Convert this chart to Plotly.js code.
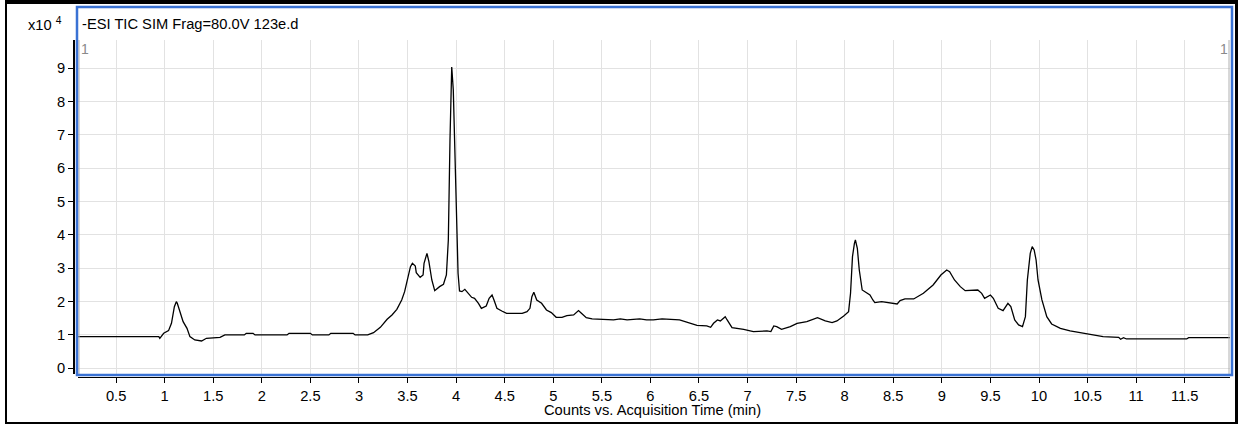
<!DOCTYPE html>
<html>
<head>
<meta charset="utf-8">
<script src="https://cdn.plot.ly/plotly-3.0.1.min.js"></script>
<style>
  html, body { margin: 0; padding: 0; background: #ffffff; }
  #wrap { position: relative; width: 1241px; height: 424px; overflow: hidden; }
  #chart { position: absolute; left: 0; top: 0; width: 1241px; height: 424px; }
  #frame { position: absolute; left: 5px; top: 0; width: 1233px; height: 424px; box-sizing: border-box;
           border-left: 2px solid #000; border-top: 4px solid #000; border-right: 3px solid #000; border-bottom: 2px solid #000;
           pointer-events: none; }
</style>
</head>
<body>
<div id="wrap">
  <div id="chart"></div>
  <div id="frame"></div>
</div>
<script>
// Acquisition time (min)
const time = [0.11, 0.50, 0.94, 0.95, 0.99, 1.04, 1.07, 1.10, 1.12, 1.13, 1.16, 1.19, 1.23, 1.26, 1.31, 1.38, 1.43, 1.57, 1.62,
  1.82, 1.84, 1.91, 1.93, 2.26, 2.28, 2.50, 2.52, 2.69, 2.71, 2.94, 2.96, 3.09, 3.15, 3.22, 3.29, 3.34, 3.39, 3.44, 3.47,
  3.51, 3.53, 3.55, 3.58, 3.59, 3.63, 3.66, 3.67, 3.70, 3.72, 3.75, 3.78, 3.83, 3.87, 3.90, 3.92, 3.937, 3.955, 3.971,
  3.99, 4.006, 4.02, 4.035, 4.06, 4.09, 4.13, 4.16, 4.19, 4.23, 4.26, 4.31, 4.34, 4.37, 4.39, 4.42, 4.47, 4.52, 4.68,
  4.73, 4.76, 4.78, 4.80, 4.83, 4.88, 4.93, 4.98, 5.03, 5.09, 5.14, 5.21, 5.26, 5.29, 5.34, 5.40, 5.53, 5.62, 5.69,
  5.76, 5.89, 5.96, 6.03, 6.12, 6.30, 6.41, 6.48, 6.58, 6.62, 6.65, 6.69, 6.72, 6.77, 6.79, 6.84, 6.96, 7.06, 7.20,
  7.24, 7.27, 7.30, 7.35, 7.44, 7.51, 7.61, 7.72, 7.80, 7.87, 7.92, 7.99, 8.04, 8.06, 8.08, 8.10, 8.11, 8.13, 8.15,
  8.18, 8.22, 8.26, 8.29, 8.31, 8.38, 8.54, 8.57, 8.62, 8.71, 8.81, 8.91, 8.99, 9.05, 9.08, 9.13, 9.19, 9.24, 9.37,
  9.41, 9.44, 9.50, 9.53, 9.58, 9.63, 9.68, 9.71, 9.75, 9.79, 9.83, 9.86, 9.88, 9.91, 9.93, 9.95, 9.97, 9.99, 10.03,
  10.08, 10.13, 10.22, 10.32, 10.42, 10.53, 10.66, 10.82, 10.84, 10.87, 10.90, 11.52, 11.54, 11.97];

// Counts (x10^4)
const counts = [0.95, 0.95, 0.95, 0.90, 1.05, 1.13, 1.35, 1.85, 2.00, 1.95, 1.70, 1.40, 1.20, 0.95, 0.85, 0.82, 0.90, 0.93, 1.00,
  1.00, 1.05, 1.05, 1.00, 1.00, 1.05, 1.05, 1.00, 1.00, 1.05, 1.05, 1.00, 1.00, 1.07, 1.23, 1.47, 1.60, 1.77, 2.05, 2.30,
  2.75, 3.05, 3.15, 3.07, 2.87, 2.73, 2.80, 3.15, 3.45, 3.20, 2.65, 2.33, 2.45, 2.52, 2.80, 3.85, 6.85, 9.04, 8.35,
  6.35, 4.35, 2.85, 2.32, 2.30, 2.37, 2.25, 2.13, 2.10, 1.95, 1.80, 1.87, 2.10, 2.20, 2.05, 1.80, 1.72, 1.65, 1.65,
  1.70, 1.80, 2.15, 2.28, 2.05, 1.95, 1.75, 1.67, 1.53, 1.53, 1.58, 1.60, 1.73, 1.65, 1.52, 1.48, 1.47, 1.45, 1.48,
  1.45, 1.48, 1.45, 1.45, 1.48, 1.45, 1.35, 1.29, 1.27, 1.23, 1.35, 1.45, 1.42, 1.55, 1.45, 1.22, 1.17, 1.10, 1.12,
  1.10, 1.27, 1.25, 1.17, 1.25, 1.35, 1.40, 1.52, 1.42, 1.37, 1.42, 1.57, 1.70, 2.25, 3.35, 3.75, 3.85, 3.60, 2.95,
  2.35, 2.27, 2.20, 2.05, 1.97, 2.00, 1.93, 2.03, 2.08, 2.08, 2.25, 2.50, 2.80, 2.95, 2.90, 2.65, 2.45, 2.33, 2.35,
  2.25, 2.10, 2.20, 2.10, 1.80, 1.73, 1.95, 1.85, 1.45, 1.30, 1.25, 1.55, 2.65, 3.45, 3.65, 3.55, 3.25, 2.65, 2.05,
  1.55, 1.33, 1.20, 1.12, 1.07, 1.01, 0.95, 0.93, 0.87, 0.92, 0.88, 0.88, 0.92, 0.92];

const xTickVals = [0.5, 1, 1.5, 2, 2.5, 3, 3.5, 4, 4.5, 5, 5.5, 6, 6.5, 7, 7.5, 8, 8.5, 9, 9.5, 10, 10.5, 11, 11.5];
const xTickText = ["0.5", "1", "1.5", "2", "2.5", "3", "3.5", "4", "4.5", "5", "5.5", "6", "6.5", "7", "7.5", "8", "8.5", "9", "9.5", "10", "10.5", "11", "11.5"];
const yTickVals = [0, 1, 2, 3, 4, 5, 6, 7, 8, 9];
const yTickText = ["0", "1", "2", "3", "4", "5", "6", "7", "8", "9"];

const chartTitle = "-ESI TIC SIM Frag=80.0V 123e.d";
const xAxisTitle = "Counts vs. Acquisition Time (min)";
const scaleLabel = "x10 <sup>4</sup>";

const FONT = "Liberation Sans, Arial, Helvetica, sans-serif";
const FS = 14.7;

const trace = {
  x: time, y: counts, type: "scatter", mode: "lines",
  line: { color: "#000000", width: 1.3 },
  hoverinfo: "skip"
};

const layout = {
  width: 1241, height: 424,
  margin: { l: 73, r: 11, t: 40, b: 47, pad: 0 },
  paper_bgcolor: "#ffffff", plot_bgcolor: "#ffffff",
  showlegend: false,
  font: { family: FONT, size: FS, color: "#000000" },
  xaxis: {
    domain: [5 / 1157, 1],
    range: [0.108, 11.966],
    anchor: "free", position: 0,
    tickvals: xTickVals, ticktext: xTickText,
    ticks: "outside", ticklen: 5, tickcolor: "#000000", tickwidth: 1,
    showline: true, linecolor: "#000000", linewidth: 1.2,
    showgrid: true, gridcolor: "#e2e2e2", gridwidth: 1,
    zeroline: false,
    tickfont: { family: FONT, size: FS, color: "#000000" }
  },
  yaxis: {
    domain: [3 / 337, 1],
    range: [-0.171, 9.85],
    anchor: "free", position: 0,
    tickvals: yTickVals, ticktext: yTickText,
    ticks: "outside", ticklen: 5, tickcolor: "#000000", tickwidth: 1,
    showline: true, linecolor: "#000000", linewidth: 1.5,
    showgrid: true, gridcolor: "#e2e2e2", gridwidth: 1,
    zeroline: false,
    tickfont: { family: FONT, size: FS, color: "#000000" }
  },
  shapes: [
    { type: "line", xref: "paper", yref: "paper", x0: 6 / 1157, x1: 6 / 1157, y0: 3 / 337, y1: 1,
      line: { color: "#b0b0b0", width: 1 }, layer: "above" },
    { type: "line", xref: "paper", yref: "paper", x0: 1156 / 1157, x1: 1156 / 1157, y0: 3 / 337, y1: 1,
      line: { color: "#b0b0b0", width: 1 }, layer: "above" },
    { type: "rect", xref: "paper", yref: "paper",
      x0: 4 / 1157, x1: 1159 / 1157, y0: 2 / 337, y1: 370 / 337,
      line: { color: "#3a72d4", width: 2.5 }, fillcolor: "rgba(0,0,0,0)", layer: "above" }
  ],
  annotations: [
    { xref: "paper", yref: "paper", x: 7 / 1157, y: (377 - 24) / 337, xanchor: "left", yanchor: "middle",
      text: chartTitle, showarrow: false, font: { family: FONT, size: FS, color: "#000000" } },
    { xref: "paper", yref: "paper", x: -9 / 1157, y: (377 - 24) / 337, xanchor: "right", yanchor: "middle",
      text: scaleLabel, showarrow: false, font: { family: FONT, size: FS, color: "#000000" } },
    { xref: "paper", yref: "paper", x: 0.501, y: (377 - 410) / 337, xanchor: "center", yanchor: "middle",
      text: xAxisTitle, showarrow: false, font: { family: FONT, size: FS, color: "#000000" } },
    { xref: "paper", yref: "paper", x: 12 / 1157, y: (377 - 49) / 337, xanchor: "center", yanchor: "middle",
      text: "1", showarrow: false, font: { family: FONT, size: 14, color: "#8a8a8a" } },
    { xref: "paper", yref: "paper", x: 1151 / 1157, y: (377 - 49) / 337, xanchor: "center", yanchor: "middle",
      text: "1", showarrow: false, font: { family: FONT, size: 14, color: "#8a8a8a" } }
  ]
};

Plotly.newPlot("chart", [trace], layout, { staticPlot: true, displayModeBar: false });
</script>
</body>
</html>
